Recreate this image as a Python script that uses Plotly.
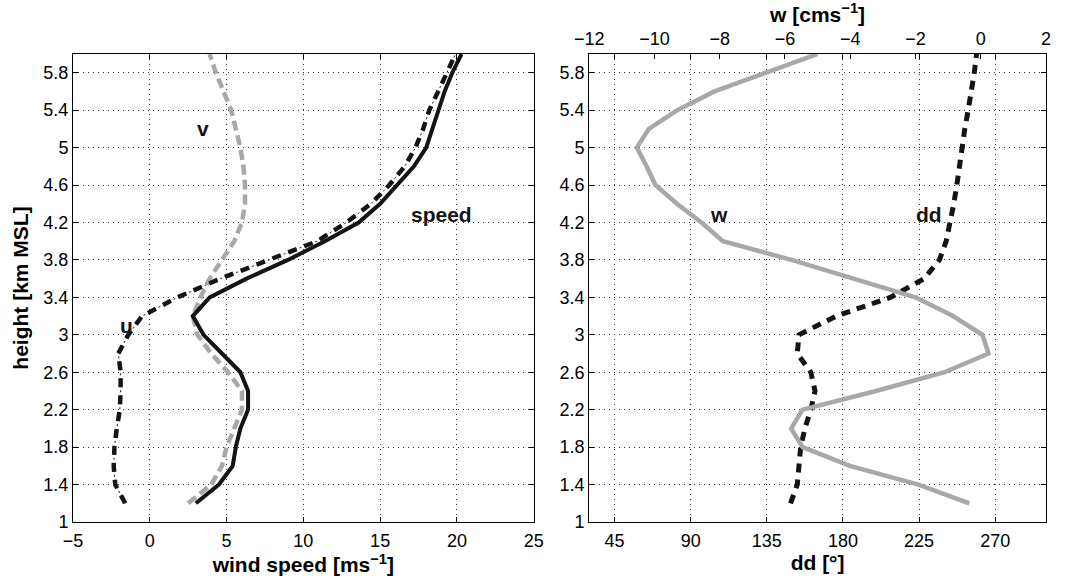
import plotly.graph_objects as go

# ---------------- data ----------------
height = [1.2, 1.4, 1.6, 1.8, 2.0, 2.2, 2.4, 2.6, 2.8, 3.0, 3.2, 3.4, 3.6,
          3.8, 4.0, 4.2, 4.4, 4.6, 4.8, 5.0, 5.2, 5.4, 5.6, 5.8, 6.0]

speed = [3.0, 4.5, 5.4, 5.6, 5.9, 6.4, 6.4, 5.9, 4.7, 3.5, 2.8, 3.9, 6.3,
         9.0, 11.4, 13.6, 15.0, 16.1, 17.2, 18.0, 18.4, 18.8, 19.2, 19.7, 20.3]

u = [-1.6, -2.25, -2.35, -2.3, -2.15, -1.95, -1.9, -1.9, -2.05, -1.4, -0.5, 1.8, 4.6,
     7.8, 10.9, 12.8, 14.4, 15.6, 16.6, 17.3, 17.8, 18.2, 18.8, 19.35, 19.9]

v = [2.5, 4.0, 4.7, 5.0, 5.5, 6.0, 6.0, 5.1, 4.0, 3.1, 2.8, 3.3, 3.9,
     4.7, 5.5, 6.0, 6.2, 6.2, 6.1, 5.9, 5.6, 5.3, 4.8, 4.3, 3.9]

dd = [149, 153, 154, 155, 157.5, 161, 163.5, 161, 153, 154, 176, 208, 228,
      237, 241, 243.5, 245.5, 247.3, 248.8, 250.2, 252, 254, 256, 257.6, 259]

w = [-0.35, -1.91, -4.01, -5.46, -5.81, -5.46, -3.21, -1.11, 0.24, 0.05, -0.85, -2.0, -3.9,
     -5.8, -7.9, -8.56, -9.31, -9.97, -10.24, -10.54, -10.17, -9.3, -8.16, -6.6, -5.0]

height_ticks = [1, 1.4, 1.8, 2.2, 2.6, 3, 3.4, 3.8, 4.2, 4.6, 5, 5.4, 5.8]
speed_ticks = [-5, 0, 5, 10, 15, 20, 25]
dd_ticks = [45, 90, 135, 180, 225, 270]
w_ticks = [-12, -10, -8, -6, -4, -2, 0, 2]

# ---------------- styles ----------------
BLACK = "#141414"
GRAY = "#a8a8a8"
FONT = "Liberation Sans"

fig = go.Figure()

# left panel
fig.add_trace(go.Scatter(x=v, y=height, mode="lines", xaxis="x", yaxis="y",
                         line=dict(color=GRAY, width=4.5, dash="10px,5px"), name="v"))
fig.add_trace(go.Scatter(x=u, y=height, mode="lines", xaxis="x", yaxis="y",
                         line=dict(color=BLACK, width=1, dash="9px,3px,2px,3px"), name="u dots"))
fig.add_trace(go.Scatter(x=u, y=height, mode="lines", xaxis="x", yaxis="y",
                         line=dict(color=BLACK, width=4.5, dash="9px,8px"), name="u"))
fig.add_trace(go.Scatter(x=speed, y=height, mode="lines", xaxis="x", yaxis="y",
                         line=dict(color=BLACK, width=4), name="speed"))

# right panel
fig.add_trace(go.Scatter(x=w, y=height, mode="lines", xaxis="x3", yaxis="y2",
                         line=dict(color=GRAY, width=4.5), name="w"))
fig.add_trace(go.Scatter(x=dd, y=height, mode="lines", xaxis="x2", yaxis="y2",
                         line=dict(color=BLACK, width=5, dash="9px,7px"), name="dd"))

tickfont = dict(family=FONT, size=18, color="black")
titlefont = dict(family=FONT, size=21, color="black")
grid = dict(showgrid=True, gridcolor="#333333", gridwidth=1, griddash="1px,4px")
common = dict(showline=True, linecolor="black", linewidth=1, ticks="inside",
              ticklen=5, tickcolor="black", tickfont=tickfont, zeroline=False)

fig.update_layout(
    width=1068, height=582,
    margin=dict(l=73, r=13, t=54, b=58),
    paper_bgcolor="white", plot_bgcolor="white",
    showlegend=False,
    xaxis=dict(domain=[0, 0.4735], range=[-5, 25], tickvals=speed_ticks,
               mirror="ticks", anchor="y", ticklabelstandoff=2,
               title=dict(text="<b>wind speed [ms<sup>−1</sup>]</b>", font=titlefont, standoff=5),
               **grid, **common),
    yaxis=dict(domain=[0, 1], range=[1, 6], tickvals=height_ticks,
               mirror="ticks", anchor="x",
               title=dict(text="<b>height [km MSL]</b>", font=titlefont, standoff=9),
               **grid, **common),
    xaxis2=dict(domain=[0.5305, 1], range=[30, 300], tickvals=dd_ticks,
                mirror="ticks", anchor="y2", ticklabelstandoff=2,
                title=dict(text="<b>dd [°]</b>", font=titlefont, standoff=5),
                **grid, **common),
    xaxis3=dict(range=[-12, 2], tickvals=w_ticks, overlaying="x2", side="top",
                anchor="y2", showgrid=False, ticklabelstandoff=1,
                title=dict(text="<b>w [cms<sup>−1</sup>]</b>", font=titlefont, standoff=0),
                **common),
    yaxis2=dict(domain=[0, 1], range=[1, 6], tickvals=height_ticks,
                mirror="ticks", anchor="x2",
                **grid, **common),
)

annfont = dict(family=FONT, size=21, color=BLACK)
fig.add_annotation(x=3.45, y=5.17, xref="x", yref="y", text="<b>v</b>", showarrow=False,
                   font=annfont, yshift=3)
fig.add_annotation(x=19.0, y=4.28, xref="x", yref="y", text="<b>speed</b>", showarrow=False,
                   font=annfont)
fig.add_annotation(x=-1.5, y=3.07, xref="x", yref="y", text="<b>u</b>", showarrow=False,
                   font=annfont, yshift=3)
fig.add_annotation(x=107, y=4.28, xref="x2", yref="y2", text="<b>w</b>", showarrow=False,
                   font=annfont)
fig.add_annotation(x=231, y=4.28, xref="x2", yref="y2", text="<b>dd</b>", showarrow=False,
                   font=annfont)

fig.write_html("out.html", config={"displayModeBar": False},
               post_script="document.body.style.margin='0px';")
